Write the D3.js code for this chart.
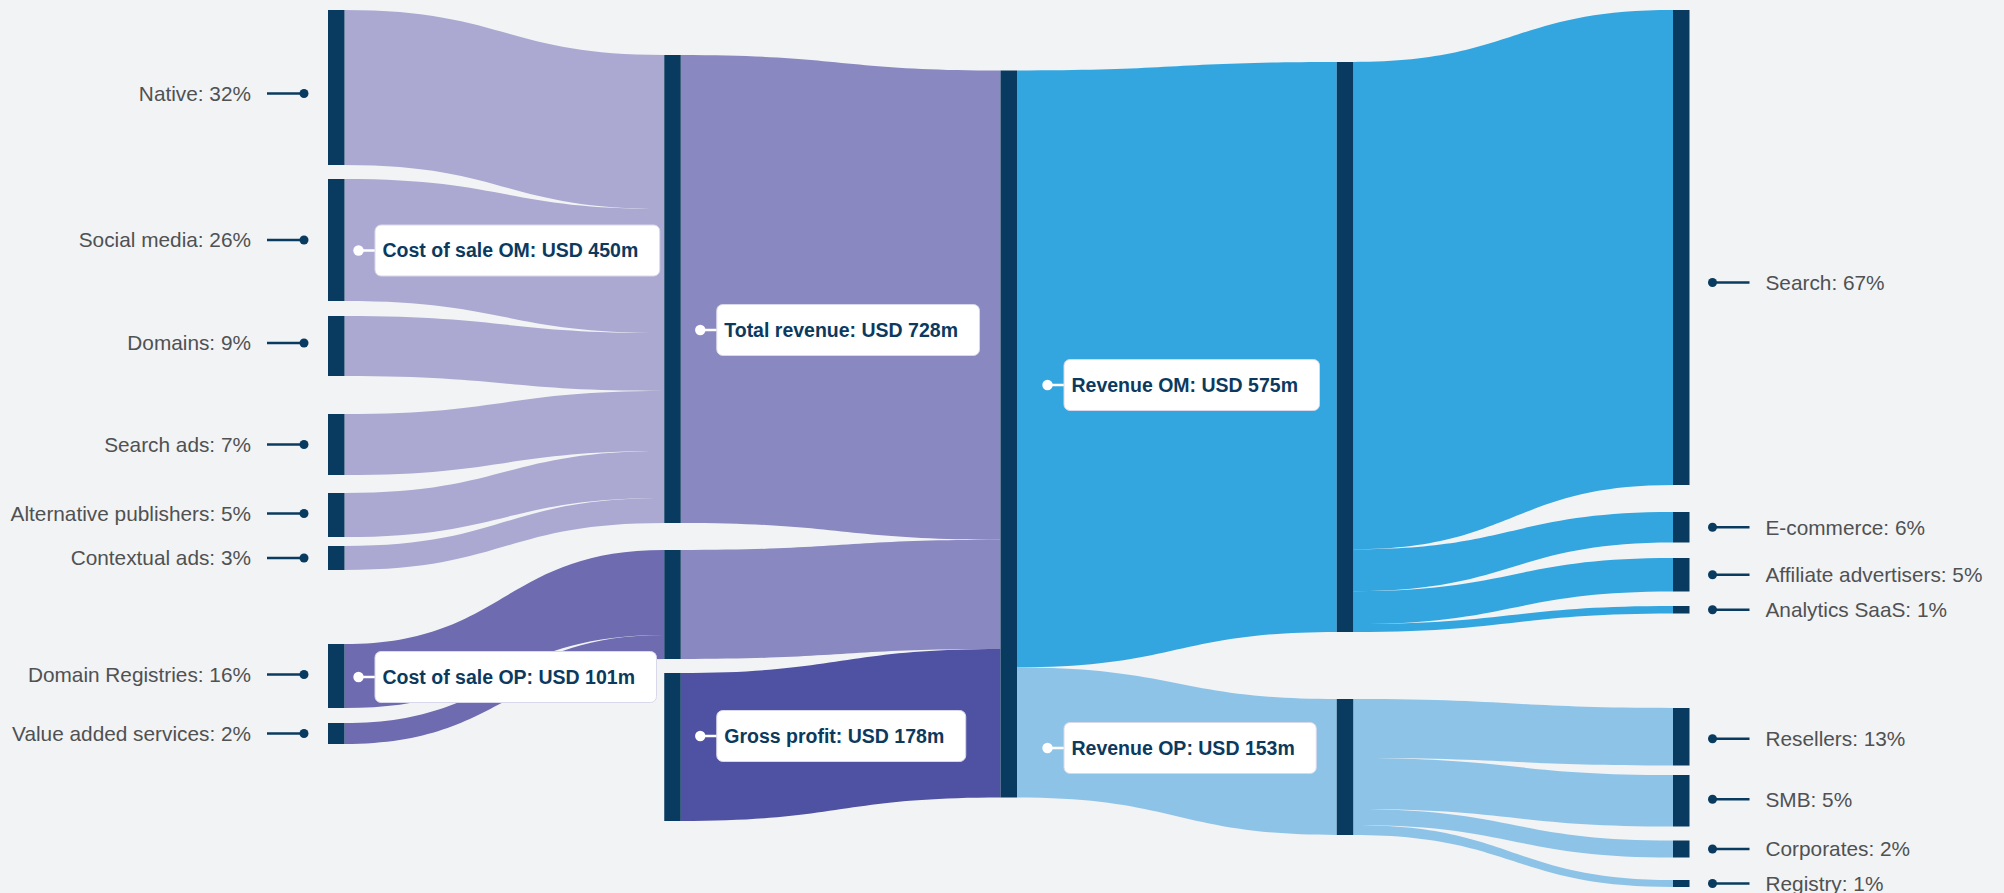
<!DOCTYPE html>
<html>
<head>
<meta charset="utf-8">
<script src="https://cdn.jsdelivr.net/npm/d3@7"></script>
<style>
  html, body { margin: 0; padding: 0; background: #f2f3f5; }
  svg { display: block; }
</style>
</head>
<body>
<svg id="chart" width="2004" height="893"></svg>
<script>
// ------------------------------------------------------------------
// DATA (node sizes and link sizes in USD m)
// ------------------------------------------------------------------
const streamNames  = ["Native", "Social media", "Domains", "Search ads", "Alternative publishers", "Contextual ads", "Domain Registries", "Value added services"];
const streamShares = [32, 26, 9, 7, 5, 3, 16, 2];
const streamValues = [155, 122, 60, 61, 44, 24, 64, 21];

const costNames   = ["Cost of sale OM", "Cost of sale OP", "Gross profit"];
const costAmounts = [450, 101, 178];
const costValues  = [468, 109, 148];

const totalNames   = ["Total revenue"];
const totalAmounts = [728];
const totalValues  = [727];

const revenueNames   = ["Revenue OM", "Revenue OP"];
const revenueAmounts = [575, 153];
const revenueValues  = [570, 136];

const customerNames  = ["Search", "E-commerce", "Affiliate advertisers", "Analytics SaaS", "Resellers", "SMB", "Corporates", "Registry"];
const customerShares = [67, 6, 5, 1, 13, 5, 2, 1];
const customerValues = [475, 30.5, 33.5, 7.5, 57.5, 51.5, 17, 7];

const linkSources = [
  "Native", "Social media", "Domains", "Search ads", "Alternative publishers", "Contextual ads",
  "Domain Registries", "Value added services",
  "Cost of sale OM", "Cost of sale OP", "Gross profit",
  "Total revenue", "Total revenue",
  "Revenue OM", "Revenue OM", "Revenue OM", "Revenue OM",
  "Revenue OP", "Revenue OP", "Revenue OP", "Revenue OP"
];
const linkTargets = [
  "Cost of sale OM", "Cost of sale OM", "Cost of sale OM", "Cost of sale OM", "Cost of sale OM", "Cost of sale OM",
  "Cost of sale OP", "Cost of sale OP",
  "Total revenue", "Total revenue", "Total revenue",
  "Revenue OM", "Revenue OP",
  "Search", "E-commerce", "Affiliate advertisers", "Analytics SaaS",
  "Resellers", "SMB", "Corporates", "Registry"
];
const linkValues = [154, 124, 58, 60, 47, 25, 85, 24, 468, 109, 148, 597, 130, 489, 42, 33, 8, 59, 51, 16, 10];

// ------------------------------------------------------------------
// LAYOUT / STYLE (kept apart from the data)
// ------------------------------------------------------------------
const W = 2004, H = 893;
const plotTop = 10, plotHeight = 877;
const nodeWidth = 16.5;
// spacing (px) above each node inside its column
const nodeGapAbove = {
  "Native": 0, "Social media": 14, "Domains": 15, "Search ads": 38, "Alternative publishers": 18,
  "Contextual ads": 9, "Domain Registries": 74, "Value added services": 15,
  "Cost of sale OM": 45, "Cost of sale OP": 27, "Gross profit": 14,
  "Total revenue": 60.5,
  "Revenue OM": 52, "Revenue OP": 67,
  "Search": 0, "E-commerce": 27, "Affiliate advertisers": 15.5, "Analytics SaaS": 14.5,
  "Resellers": 94.5, "SMB": 9.5, "Corporates": 14, "Registry": 22.5
};
// vertical nudges (px) of labels relative to the node centre
const labelNudge = {
  "Native": 6, "Domains": -3, "Alternative publishers": -1.5, "Domain Registries": -1.5,
  "Search": 35, "Resellers": 2, "SMB": -1.5,
  "Cost of sale OM": -38.5, "Cost of sale OP": 72.5, "Gross profit": -11,
  "Total revenue": -104, "Revenue OM": 38, "Revenue OP": -19
};
// horizontal distance of the label dot from the node column on its left
const boxDotOffset = [14, 19.5, 30.5];

const C = {
  node: "#083b5f",
  lav: "#aba9d1",
  purple: "#6e6bb0",
  mid: "#8a88c0",
  indigo: "#4f52a2",
  blue: "#34a6df",
  lightBlue: "#8ec3e8",
  text: "#4f5152",
  boxText: "#0b3a5e"
};

// ------------------------------------------------------------------
// BUILD NODES & LINKS
// ------------------------------------------------------------------
const columns = [
  { names: streamNames,   values: streamValues,   shares: streamShares },
  { names: costNames,     values: costValues,     amounts: costAmounts },
  { names: totalNames,    values: totalValues,    amounts: totalAmounts },
  { names: revenueNames,  values: revenueValues,  amounts: revenueAmounts },
  { names: customerNames, values: customerValues, shares: customerShares }
];

const x = d3.scaleLinear().domain([0, columns.length - 1]).range([328, 1673]);
const v = d3.scaleLinear().domain([0, plotHeight]).range([0, plotHeight]);

const nodes = [];
const byName = new Map();
columns.forEach((col, ci) => {
  let y = plotTop;
  col.names.forEach((name, i) => {
    y += nodeGapAbove[name] || 0;
    const n = {
      name, col: ci, value: col.values[i],
      share: col.shares ? col.shares[i] : null,
      amount: col.amounts ? col.amounts[i] : null,
      x0: x(ci), x1: x(ci) + nodeWidth,
      y0: y, y1: y + v(col.values[i]),
      out: [], inn: []
    };
    y = n.y1;
    nodes.push(n);
    byName.set(name, n);
  });
});

const links = linkSources.map((s, i) => {
  const l = { source: byName.get(s), target: byName.get(linkTargets[i]), value: linkValues[i] };
  l.source.out.push(l);
  l.target.inn.push(l);
  return l;
});

// link ends fill each node in proportion to the link values
nodes.forEach(n => {
  const h = n.y1 - n.y0;
  const sOut = d3.sum(n.out, l => l.value);
  let y = n.y0;
  n.out.forEach(l => { l.sy0 = y; y += h * l.value / sOut; l.sy1 = y; });
  const sIn = d3.sum(n.inn, l => l.value);
  y = n.y0;
  n.inn.forEach(l => { l.ty0 = y; y += h * l.value / sIn; l.ty1 = y; });
});

function linkColour(l) {
  if (l.target.col === 1) return l.target.name === "Cost of sale OM" ? C.lav : C.purple;
  if (l.target.col === 2) return l.source.name === "Gross profit" ? C.indigo : C.mid;
  if (l.target.col === 3) return l.target.name === "Revenue OM" ? C.blue : C.lightBlue;
  return l.source.name === "Revenue OM" ? C.blue : C.lightBlue;
}

function linkPath(l) {
  const x0 = l.source.x1, x1 = l.target.x0, xm = (x0 + x1) / 2;
  const p = d3.path();
  p.moveTo(x0, l.sy0);
  p.bezierCurveTo(xm, l.sy0, xm, l.ty0, x1, l.ty0);
  p.lineTo(x1, l.ty1);
  p.bezierCurveTo(xm, l.ty1, xm, l.sy1, x0, l.sy1);
  p.closePath();
  return p.toString();
}

// ------------------------------------------------------------------
// DRAW
// ------------------------------------------------------------------
const svg = d3.select("#chart");
svg.append("rect").attr("width", W).attr("height", H).attr("fill", "#f2f3f5");

svg.append("g").selectAll("path")
  .data(links)
  .join("path")
  .attr("d", linkPath)
  .attr("fill", linkColour);

svg.append("g").selectAll("rect")
  .data(nodes)
  .join("rect")
  .attr("x", d => d.x0)
  .attr("y", d => d.y0)
  .attr("width", d => d.x1 - d.x0)
  .attr("height", d => d.y1 - d.y0)
  .attr("fill", C.node);

// outer labels (first and last column)
const outer = nodes.filter(n => n.col === 0 || n.col === columns.length - 1);
const og = svg.append("g").selectAll("g").data(outer).join("g")
  .attr("transform", d => `translate(0,${(d.y0 + d.y1) / 2 + (labelNudge[d.name] || 0)})`);

og.append("line")
  .attr("x1", d => d.col === 0 ? d.x0 - 24 : d.x1 + 23)
  .attr("x2", d => d.col === 0 ? d.x0 - 61 : d.x1 + 60)
  .attr("y1", 0).attr("y2", 0)
  .attr("stroke", C.node).attr("stroke-width", 2.5);
og.append("circle")
  .attr("cx", d => d.col === 0 ? d.x0 - 24 : d.x1 + 23)
  .attr("cy", 0).attr("r", 4.5)
  .attr("fill", C.node);
og.append("text")
  .attr("x", d => d.col === 0 ? d.x0 - 77 : d.x1 + 76)
  .attr("dy", "0.35em")
  .attr("text-anchor", d => d.col === 0 ? "end" : "start")
  .attr("font-family", "'Liberation Sans', Arial, Helvetica, sans-serif")
  .attr("font-size", 20.8)
  .attr("fill", C.text)
  .text(d => `${d.name}: ${d.share}%`);

// boxed labels (middle columns)
const inner = nodes.filter(n => n.col > 0 && n.col < columns.length - 1);
function boxGap(n) { return n.name === "Gross profit" ? n.col : n.col - 1; }
const bg = svg.append("g").selectAll("g").data(inner).join("g")
  .attr("transform", d => {
    const gi = boxGap(d);
    const dotX = x(gi) + nodeWidth + boxDotOffset[gi];
    return `translate(${dotX},${(d.y0 + d.y1) / 2 + (labelNudge[d.name] || 0)})`;
  });

bg.append("line")
  .attr("x1", 0).attr("x2", 17).attr("y1", 0).attr("y2", 0)
  .attr("stroke", "#ffffff").attr("stroke-width", 2.5);
bg.append("circle").attr("cx", 0).attr("cy", 0).attr("r", 5.2).attr("fill", "#ffffff");
const boxRect = bg.append("rect")
  .attr("x", 16.5).attr("y", -25.5).attr("height", 51).attr("rx", 6)
  .attr("fill", "#ffffff").attr("stroke", "#d9d8ea").attr("stroke-width", 1);
const boxText = bg.append("text")
  .attr("x", 24)
  .attr("dy", "0.35em")
  .attr("font-family", "'Liberation Sans', Arial, Helvetica, sans-serif")
  .attr("font-weight", "bold")
  .attr("font-size", 19.5)
  .attr("fill", C.boxText)
  .text(d => `${d.name}: USD ${d.amount}m`);
boxText.each(function(d) { d.tw = this.getComputedTextLength(); });
boxRect.attr("width", d => d.tw + 29);
</script>
</body>
</html>
